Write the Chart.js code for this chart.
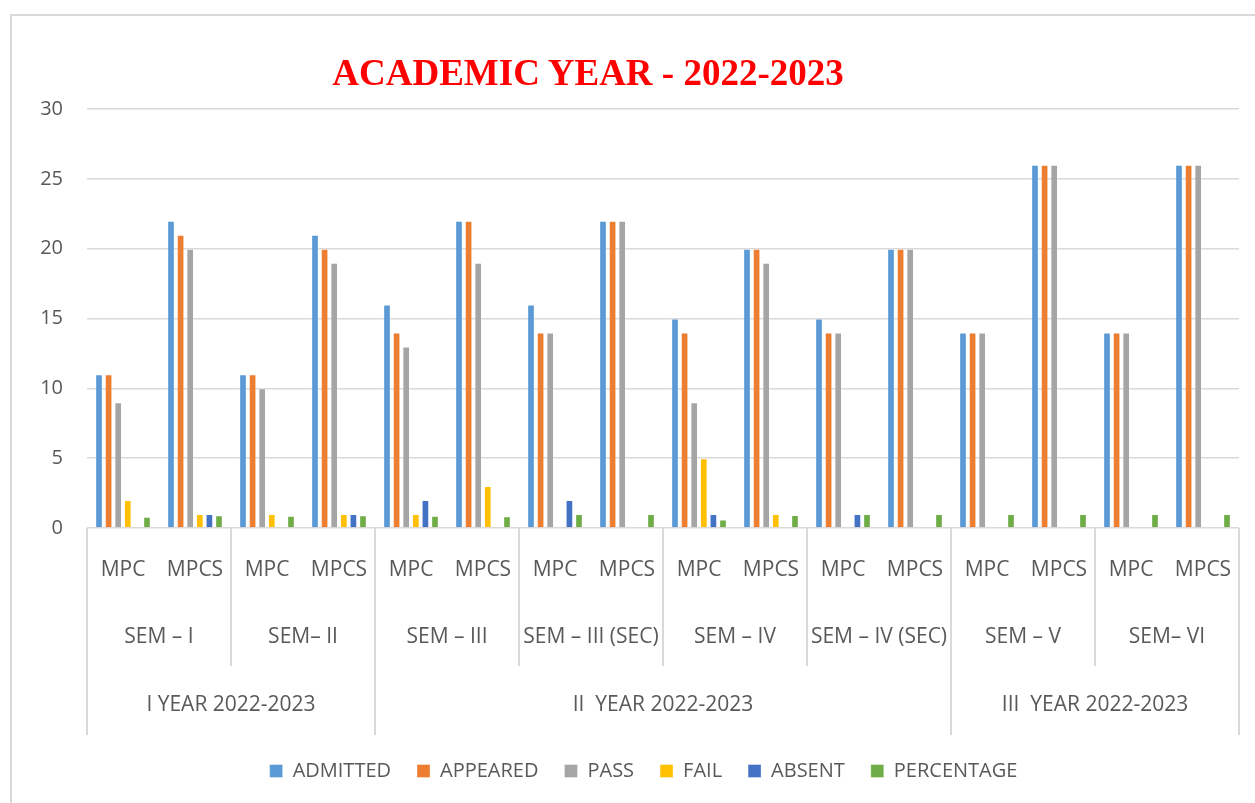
<!DOCTYPE html>
<html>
<head>
<meta charset="utf-8">
<script src="https://cdn.jsdelivr.net/npm/chart.js@4"></script>
<style>
  html, body { margin: 0; padding: 0; background: #fff; overflow: hidden; }
  #wrap { position: relative; width: 1255px; height: 803px; }
  #frame { position: absolute; left: 10px; top: 14px; width: 1300px; height: 900px; border: 2px solid #d9d9d9; box-sizing: border-box; }
  #title {
    position: absolute; left: 288px; top: 54px; width: 600px; text-align: center;
    font: bold 37px/37px "Liberation Serif", "Times New Roman", serif; color: #ff0000;
  }
  #chart { position: absolute; left: 0; top: 0; }
</style>
</head>
<body>
<div id="wrap">
  <div id="frame"></div>
  <canvas id="chart" width="1255" height="803"></canvas>
  <div id="title">ACADEMIC YEAR - 2022-2023</div>
</div>
<script>
const courses = ['MPC', 'MPCS', 'MPC', 'MPCS', 'MPC', 'MPCS', 'MPC', 'MPCS',
                 'MPC', 'MPCS', 'MPC', 'MPCS', 'MPC', 'MPCS', 'MPC', 'MPCS'];
const semesters = ['SEM – I', 'SEM– II', 'SEM – III', 'SEM – III (SEC)',
                   'SEM – IV', 'SEM – IV (SEC)', 'SEM – V', 'SEM– VI'];
const years = ['I YEAR 2022-2023', 'II  YEAR 2022-2023', 'III  YEAR 2022-2023'];
const semestersPerYear = [2, 4, 2];

const admitted   = [11, 22, 11, 21, 16, 22, 16, 22, 15, 20, 15, 20, 14, 26, 14, 26];
const appeared   = [11, 21, 11, 20, 14, 22, 14, 22, 14, 20, 14, 20, 14, 26, 14, 26];
const pass       = [9, 20, 10, 19, 13, 19, 14, 22, 9, 19, 14, 20, 14, 26, 14, 26];
const fail       = [2, 1, 1, 1, 1, 3, 0, 0, 5, 1, 0, 0, 0, 0, 0, 0];
const absent     = [0, 1, 0, 1, 2, 0, 2, 0, 1, 0, 1, 0, 0, 0, 0, 0];
const percentage = [0.8, 0.92, 0.88, 0.92, 0.88, 0.85, 1, 1, 0.6, 0.93, 1, 1, 1, 1, 1, 1];

const yTicks = [0, 5, 10, 15, 20, 25, 30];

const textColor = '#595959';
const lineColor = '#d9d9d9';
const fontFamily = '"Open Sans", "Liberation Sans", sans-serif';
const tickFont = { family: fontFamily, size: 20 };
const catFont = { family: fontFamily, size: 21 };

// group labels + separator lines below the x axis
const groupAxis = {
  id: 'groupAxis',
  afterDraw(chart) {
    const x = chart.scales.x;
    const ctx = chart.ctx;
    const top = x.top;
    const semRowY = 637;
    const yearRowY = 705;
    const semBottom = 666;
    const yearBottom = 735;
    const step = x.getPixelForValue(1) - x.getPixelForValue(0);
    const edge = (i) => x.getPixelForValue(0) - step / 2 + i * step;

    ctx.save();
    ctx.strokeStyle = lineColor;
    ctx.lineWidth = 2;
    ctx.fillStyle = textColor;
    ctx.font = '21px ' + fontFamily;
    ctx.textAlign = 'center';
    ctx.textBaseline = 'middle';

    // year boundaries (in semesters)
    const yearEdges = [0];
    semestersPerYear.forEach((n) => yearEdges.push(yearEdges[yearEdges.length - 1] + n));

    for (let s = 0; s <= semesters.length; s++) {
      const px = Math.round(edge(s * 2));
      const bottom = yearEdges.includes(s) ? yearBottom : semBottom;
      ctx.beginPath();
      ctx.moveTo(px, top);
      ctx.lineTo(px, bottom);
      ctx.stroke();
    }

    semesters.forEach((label, s) => {
      ctx.fillText(label, (edge(s * 2) + edge(s * 2 + 2)) / 2, semRowY);
    });

    years.forEach((label, yi) => {
      const a = edge(yearEdges[yi] * 2);
      const b = edge(yearEdges[yi + 1] * 2);
      ctx.fillText(label, (a + b) / 2, yearRowY);
    });
    ctx.restore();
  },
};

// legend sits a little right of the canvas centre in the original
const legendShift = {
  id: 'legendShift',
  afterLayout(chart) {
    chart.legend.left += 14;
    chart.legend.right += 14;
  },
};

const ds = (label, data, color) => ({
  label, data,
  backgroundColor: color,
  borderColor: 'rgba(255,255,255,0.35)',
  borderWidth: 1,
  categoryPercentage: 0.8,
  barPercentage: 0.8,
});

new Chart(document.getElementById('chart'), {
  type: 'bar',
  data: {
    labels: courses,
    datasets: [
      ds('ADMITTED', admitted, '#5b9bd5'),
      ds('APPEARED', appeared, '#ed7d31'),
      ds('PASS', pass, '#a5a5a5'),
      ds('FAIL', fail, '#ffc000'),
      ds('ABSENT', absent, '#4472c4'),
      ds('PERCENTAGE', percentage, '#70ad47'),
    ],
  },
  options: {
    responsive: false,
    animation: false,
    layout: { padding: { top: 109, left: 20, right: 16, bottom: 12 } },
    plugins: {
      title: { display: false },
      tooltip: { enabled: false },
      legend: {
        position: 'bottom',
        labels: {
          boxWidth: 13, boxHeight: 13, padding: 26,
          color: textColor, font: tickFont,
        },
      },
    },
    scales: {
      x: {
        grid: { display: false },
        border: { display: false },
        ticks: { color: textColor, font: catFont, maxRotation: 0, autoSkip: false, padding: 21 },
        afterFit(scale) { scale.height = 207; },
      },
      y: {
        min: 0, max: 30,
        afterBuildTicks(scale) { scale.ticks = yTicks.map((v) => ({ value: v })); },
        grid: { color: lineColor, lineWidth: 1.5, drawTicks: false },
        border: { display: false },
        ticks: { color: textColor, font: tickFont, padding: 24 },
        afterFit(scale) { scale.width = 67; },
      },
    },
  },
  plugins: [groupAxis, legendShift],
});
</script>
</body>
</html>
